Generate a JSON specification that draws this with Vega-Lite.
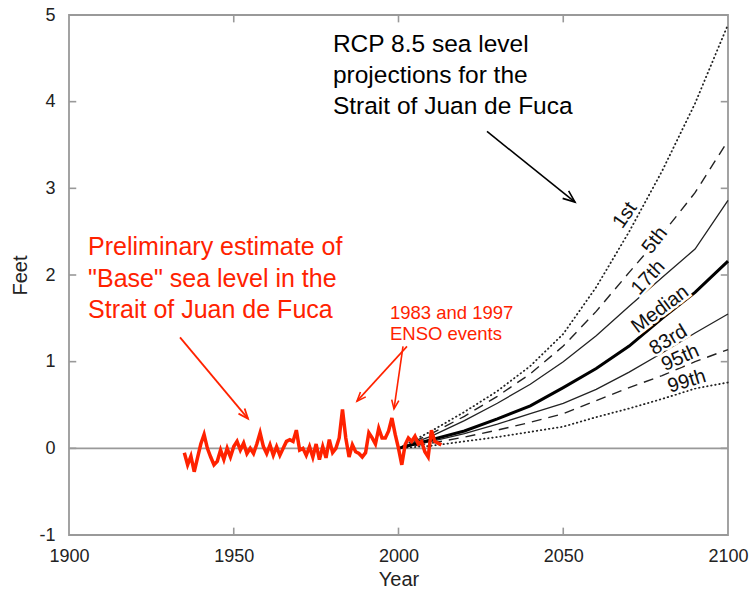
{
  "$schema": "https://vega.github.io/schema/vega-lite/v6.json",
  "width": 659,
  "height": 520,
  "autosize": {"type": "none"},
  "padding": {"left": 69, "top": 15, "right": 21, "bottom": 60},
  "background": "white",
  "config": {
    "view": {"stroke": "#999999", "strokeWidth": 1.8},
    "font": "Liberation Sans",
    "axis": {
      "domain": false, "ticks": false,
      "grid": false, "labelFont": "Liberation Sans", "labelFontSize": 18,
      "labelColor": "#222222", "labelFlush": false,
      "titleFont": "Liberation Sans", "titleFontSize": 20,
      "titleFontWeight": "normal", "titleColor": "#222222"
    }
  },
  "datasets": {
    "obs": [
      {"year": 1935, "ft": -0.05}, {"year": 1936, "ft": -0.19}, {"year": 1937, "ft": -0.09}, {"year": 1938, "ft": -0.27},
      {"year": 1939, "ft": -0.11}, {"year": 1940, "ft": 0.05}, {"year": 1941, "ft": 0.16}, {"year": 1942, "ft": 0.0},
      {"year": 1943, "ft": -0.1}, {"year": 1944, "ft": -0.19}, {"year": 1945, "ft": -0.15}, {"year": 1946, "ft": -0.02},
      {"year": 1947, "ft": -0.13}, {"year": 1948, "ft": 0.0}, {"year": 1949, "ft": -0.1}, {"year": 1950, "ft": 0.02},
      {"year": 1951, "ft": 0.08}, {"year": 1952, "ft": -0.02}, {"year": 1953, "ft": 0.06}, {"year": 1954, "ft": -0.06},
      {"year": 1955, "ft": 0.0}, {"year": 1956, "ft": -0.06}, {"year": 1957, "ft": 0.05}, {"year": 1958, "ft": 0.18},
      {"year": 1959, "ft": 0.02}, {"year": 1960, "ft": -0.06}, {"year": 1961, "ft": 0.04}, {"year": 1962, "ft": -0.08},
      {"year": 1963, "ft": 0.02}, {"year": 1964, "ft": -0.08}, {"year": 1965, "ft": 0.0}, {"year": 1966, "ft": 0.08},
      {"year": 1967, "ft": 0.1}, {"year": 1968, "ft": 0.08}, {"year": 1969, "ft": 0.21}, {"year": 1970, "ft": -0.02},
      {"year": 1971, "ft": 0.0}, {"year": 1972, "ft": -0.08}, {"year": 1973, "ft": 0.02}, {"year": 1974, "ft": -0.1},
      {"year": 1975, "ft": 0.05}, {"year": 1976, "ft": -0.13}, {"year": 1977, "ft": 0.02}, {"year": 1978, "ft": -0.11},
      {"year": 1979, "ft": 0.1}, {"year": 1980, "ft": -0.05}, {"year": 1981, "ft": 0.0}, {"year": 1982, "ft": 0.12},
      {"year": 1983, "ft": 0.45}, {"year": 1984, "ft": 0.12}, {"year": 1985, "ft": -0.1}, {"year": 1986, "ft": 0.04},
      {"year": 1987, "ft": -0.04}, {"year": 1988, "ft": -0.06}, {"year": 1989, "ft": -0.1}, {"year": 1990, "ft": -0.05},
      {"year": 1991, "ft": 0.18}, {"year": 1992, "ft": 0.12}, {"year": 1993, "ft": 0.05}, {"year": 1994, "ft": 0.23},
      {"year": 1995, "ft": 0.12}, {"year": 1996, "ft": 0.12}, {"year": 1997, "ft": 0.2}, {"year": 1998, "ft": 0.35},
      {"year": 1999, "ft": 0.16}, {"year": 2000, "ft": 0.0}, {"year": 2001, "ft": -0.19}, {"year": 2002, "ft": 0.04},
      {"year": 2003, "ft": 0.12}, {"year": 2004, "ft": 0.08}, {"year": 2005, "ft": 0.14}, {"year": 2006, "ft": 0.05},
      {"year": 2007, "ft": 0.08}, {"year": 2008, "ft": -0.04}, {"year": 2009, "ft": -0.1}, {"year": 2010, "ft": 0.21},
      {"year": 2011, "ft": 0.08}, {"year": 2012, "ft": 0.06}, {"year": 2013, "ft": 0.04}
    ],
    "proj": [
      {"year": 2000, "p": "1st", "ft": 0}, {"year": 2010, "p": "1st", "ft": 0.2}, {"year": 2020, "p": "1st", "ft": 0.42}, {"year": 2030, "p": "1st", "ft": 0.66}, {"year": 2040, "p": "1st", "ft": 0.95}, {"year": 2050, "p": "1st", "ft": 1.32}, {"year": 2060, "p": "1st", "ft": 1.86}, {"year": 2070, "p": "1st", "ft": 2.5}, {"year": 2080, "p": "1st", "ft": 3.2}, {"year": 2090, "p": "1st", "ft": 3.98}, {"year": 2100, "p": "1st", "ft": 4.89},
      {"year": 2000, "p": "5th", "ft": 0}, {"year": 2010, "p": "5th", "ft": 0.17}, {"year": 2020, "p": "5th", "ft": 0.37}, {"year": 2030, "p": "5th", "ft": 0.6}, {"year": 2040, "p": "5th", "ft": 0.86}, {"year": 2050, "p": "5th", "ft": 1.18}, {"year": 2060, "p": "5th", "ft": 1.58}, {"year": 2070, "p": "5th", "ft": 2.03}, {"year": 2080, "p": "5th", "ft": 2.47}, {"year": 2090, "p": "5th", "ft": 2.95}, {"year": 2100, "p": "5th", "ft": 3.55},
      {"year": 2000, "p": "17th", "ft": 0}, {"year": 2010, "p": "17th", "ft": 0.14}, {"year": 2020, "p": "17th", "ft": 0.32}, {"year": 2030, "p": "17th", "ft": 0.52}, {"year": 2040, "p": "17th", "ft": 0.74}, {"year": 2050, "p": "17th", "ft": 1.0}, {"year": 2060, "p": "17th", "ft": 1.3}, {"year": 2070, "p": "17th", "ft": 1.64}, {"year": 2080, "p": "17th", "ft": 1.97}, {"year": 2090, "p": "17th", "ft": 2.3}, {"year": 2100, "p": "17th", "ft": 2.86},
      {"year": 2000, "p": "Median", "ft": 0}, {"year": 2010, "p": "Median", "ft": 0.1}, {"year": 2020, "p": "Median", "ft": 0.2}, {"year": 2030, "p": "Median", "ft": 0.34}, {"year": 2040, "p": "Median", "ft": 0.49}, {"year": 2050, "p": "Median", "ft": 0.7}, {"year": 2060, "p": "Median", "ft": 0.92}, {"year": 2070, "p": "Median", "ft": 1.18}, {"year": 2080, "p": "Median", "ft": 1.5}, {"year": 2090, "p": "Median", "ft": 1.8}, {"year": 2100, "p": "Median", "ft": 2.16},
      {"year": 2000, "p": "83rd", "ft": 0}, {"year": 2010, "p": "83rd", "ft": 0.08}, {"year": 2020, "p": "83rd", "ft": 0.17}, {"year": 2030, "p": "83rd", "ft": 0.28}, {"year": 2040, "p": "83rd", "ft": 0.4}, {"year": 2050, "p": "83rd", "ft": 0.52}, {"year": 2060, "p": "83rd", "ft": 0.68}, {"year": 2070, "p": "83rd", "ft": 0.88}, {"year": 2080, "p": "83rd", "ft": 1.1}, {"year": 2090, "p": "83rd", "ft": 1.33}, {"year": 2100, "p": "83rd", "ft": 1.55},
      {"year": 2000, "p": "95th", "ft": 0}, {"year": 2010, "p": "95th", "ft": 0.06}, {"year": 2020, "p": "95th", "ft": 0.13}, {"year": 2030, "p": "95th", "ft": 0.21}, {"year": 2040, "p": "95th", "ft": 0.3}, {"year": 2050, "p": "95th", "ft": 0.4}, {"year": 2060, "p": "95th", "ft": 0.55}, {"year": 2070, "p": "95th", "ft": 0.7}, {"year": 2080, "p": "95th", "ft": 0.84}, {"year": 2090, "p": "95th", "ft": 1.0}, {"year": 2100, "p": "95th", "ft": 1.14},
      {"year": 2000, "p": "99th", "ft": 0}, {"year": 2010, "p": "99th", "ft": 0.03}, {"year": 2020, "p": "99th", "ft": 0.08}, {"year": 2030, "p": "99th", "ft": 0.13}, {"year": 2040, "p": "99th", "ft": 0.19}, {"year": 2050, "p": "99th", "ft": 0.25}, {"year": 2060, "p": "99th", "ft": 0.36}, {"year": 2070, "p": "99th", "ft": 0.46}, {"year": 2080, "p": "99th", "ft": 0.57}, {"year": 2090, "p": "99th", "ft": 0.69}, {"year": 2100, "p": "99th", "ft": 0.76}
    ],
    "xticks": [{"year": 1950}, {"year": 2000}, {"year": 2050}],
    "yticks": [{"ft": 0}, {"ft": 1}, {"ft": 2}, {"ft": 3}, {"ft": 4}]
  },
  "layer": [
    {
      "data": {"values": [{}]},
      "mark": {"type": "rule", "color": "#999999", "strokeWidth": 1.8},
      "encoding": {
        "y": {"datum": 0, "type": "quantitative", "scale": {"domain": [-1, 5], "nice": false, "zero": false},
          "axis": {"orient": "left", "values": [-1, 0, 1, 2, 3, 4, 5], "labelExpr": "'' + datum.value", "title": "Feet",
            "labelPadding": 14, "titlePadding": 8}}
      }
    },
    {
      "data": {"name": "xticks"},
      "mark": {"type": "rule", "color": "#999999", "strokeWidth": 1.6},
      "encoding": {"x": {"field": "year", "type": "quantitative"}, "y": {"datum": -1, "type": "quantitative"}, "y2": {"datum": -0.915}}
    },
    {
      "data": {"name": "xticks"},
      "mark": {"type": "rule", "color": "#999999", "strokeWidth": 1.6},
      "encoding": {"x": {"field": "year", "type": "quantitative"}, "y": {"datum": 5, "type": "quantitative"}, "y2": {"datum": 4.915}}
    },
    {
      "data": {"name": "yticks"},
      "mark": {"type": "rule", "color": "#999999", "strokeWidth": 1.6},
      "encoding": {"y": {"field": "ft", "type": "quantitative"}, "x": {"datum": 1900, "type": "quantitative"}, "x2": {"datum": 1902.2}}
    },
    {
      "data": {"name": "yticks"},
      "mark": {"type": "rule", "color": "#999999", "strokeWidth": 1.6},
      "encoding": {"y": {"field": "ft", "type": "quantitative"}, "x": {"datum": 2100, "type": "quantitative"}, "x2": {"datum": 2097.8}}
    },
    {
      "data": {"name": "proj"},
      "transform": [{"filter": {"field": "p", "oneOf": ["1st", "99th"]}}],
      "mark": {"type": "line", "color": "#222222", "strokeWidth": 1.8, "strokeDash": [0.5, 3.6], "strokeCap": "round"},
      "encoding": {
        "x": {"field": "year", "type": "quantitative", "scale": {"domain": [1900, 2100], "nice": false, "zero": false}},
        "y": {"field": "ft", "type": "quantitative"},
        "detail": {"field": "p"}
      }
    },
    {
      "data": {"name": "proj"},
      "transform": [{"filter": {"field": "p", "oneOf": ["5th", "95th"]}}],
      "mark": {"type": "line", "color": "#222222", "strokeWidth": 1.4, "strokeDash": [10, 7]},
      "encoding": {
        "x": {"field": "year", "type": "quantitative"},
        "y": {"field": "ft", "type": "quantitative"},
        "detail": {"field": "p"}
      }
    },
    {
      "data": {"name": "proj"},
      "transform": [{"filter": {"field": "p", "oneOf": ["17th", "83rd"]}}],
      "mark": {"type": "line", "color": "#222222", "strokeWidth": 1.3},
      "encoding": {
        "x": {"field": "year", "type": "quantitative"},
        "y": {"field": "ft", "type": "quantitative"},
        "detail": {"field": "p"}
      }
    },
    {
      "data": {"name": "proj"},
      "transform": [{"filter": {"field": "p", "equal": "Median"}}],
      "mark": {"type": "line", "color": "#000000", "strokeWidth": 3},
      "encoding": {
        "x": {"field": "year", "type": "quantitative"},
        "y": {"field": "ft", "type": "quantitative"}
      }
    },
    {
      "data": {"name": "obs"},
      "mark": {"type": "line", "color": "#ff2200", "strokeWidth": 3.5, "strokeJoin": "miter"},
      "encoding": {
        "x": {"field": "year", "type": "quantitative",
          "axis": {"orient": "bottom", "values": [1900, 1950, 2000, 2050, 2100], "format": "d", "title": "Year",
            "labelPadding": 12, "titlePadding": 4}},
        "y": {"field": "ft", "type": "quantitative"}
      }
    },
    {"data": {"values": [{}]}, "mark": {"type": "text", "text": "1st", "angle": -55, "fontSize": 20, "stroke": "white", "strokeWidth": 5, "align": "center", "baseline": "middle"},
     "encoding": {"x": {"datum": 2068.7, "type": "quantitative"}, "y": {"datum": 2.69, "type": "quantitative"}}},
    {"data": {"values": [{}]}, "mark": {"type": "text", "text": "1st", "angle": -55, "fontSize": 20, "color": "#111111", "align": "center", "baseline": "middle"},
     "encoding": {"x": {"datum": 2068.7, "type": "quantitative"}, "y": {"datum": 2.69, "type": "quantitative"}}},
    {"data": {"values": [{}]}, "mark": {"type": "text", "text": "5th", "angle": -52, "fontSize": 20, "stroke": "white", "strokeWidth": 5, "align": "center", "baseline": "middle"},
     "encoding": {"x": {"datum": 2077.8, "type": "quantitative"}, "y": {"datum": 2.4, "type": "quantitative"}}},
    {"data": {"values": [{}]}, "mark": {"type": "text", "text": "5th", "angle": -52, "fontSize": 20, "color": "#111111", "align": "center", "baseline": "middle"},
     "encoding": {"x": {"datum": 2077.8, "type": "quantitative"}, "y": {"datum": 2.4, "type": "quantitative"}}},
    {"data": {"values": [{}]}, "mark": {"type": "text", "text": "17th", "angle": -47, "fontSize": 20, "stroke": "white", "strokeWidth": 5, "align": "center", "baseline": "middle"},
     "encoding": {"x": {"datum": 2075.8, "type": "quantitative"}, "y": {"datum": 1.97, "type": "quantitative"}}},
    {"data": {"values": [{}]}, "mark": {"type": "text", "text": "17th", "angle": -47, "fontSize": 20, "color": "#111111", "align": "center", "baseline": "middle"},
     "encoding": {"x": {"datum": 2075.8, "type": "quantitative"}, "y": {"datum": 1.97, "type": "quantitative"}}},
    {"data": {"values": [{}]}, "mark": {"type": "text", "text": "Median", "angle": -37, "fontSize": 20, "stroke": "white", "strokeWidth": 5, "align": "center", "baseline": "middle"},
     "encoding": {"x": {"datum": 2079.4, "type": "quantitative"}, "y": {"datum": 1.605, "type": "quantitative"}}},
    {"data": {"values": [{}]}, "mark": {"type": "text", "text": "Median", "angle": -37, "fontSize": 20, "color": "#111111", "align": "center", "baseline": "middle"},
     "encoding": {"x": {"datum": 2079.4, "type": "quantitative"}, "y": {"datum": 1.605, "type": "quantitative"}}},
    {"data": {"values": [{}]}, "mark": {"type": "text", "text": "83rd", "angle": -31, "fontSize": 20, "stroke": "white", "strokeWidth": 5, "align": "center", "baseline": "middle"},
     "encoding": {"x": {"datum": 2081.9, "type": "quantitative"}, "y": {"datum": 1.25, "type": "quantitative"}}},
    {"data": {"values": [{}]}, "mark": {"type": "text", "text": "83rd", "angle": -31, "fontSize": 20, "color": "#111111", "align": "center", "baseline": "middle"},
     "encoding": {"x": {"datum": 2081.9, "type": "quantitative"}, "y": {"datum": 1.25, "type": "quantitative"}}},
    {"data": {"values": [{}]}, "mark": {"type": "text", "text": "95th", "angle": -24, "fontSize": 20, "stroke": "white", "strokeWidth": 5, "align": "center", "baseline": "middle"},
     "encoding": {"x": {"datum": 2085.5, "type": "quantitative"}, "y": {"datum": 1.045, "type": "quantitative"}}},
    {"data": {"values": [{}]}, "mark": {"type": "text", "text": "95th", "angle": -24, "fontSize": 20, "color": "#111111", "align": "center", "baseline": "middle"},
     "encoding": {"x": {"datum": 2085.5, "type": "quantitative"}, "y": {"datum": 1.045, "type": "quantitative"}}},
    {"data": {"values": [{}]}, "mark": {"type": "text", "text": "99th", "angle": -17, "fontSize": 20, "stroke": "white", "strokeWidth": 5, "align": "center", "baseline": "middle"},
     "encoding": {"x": {"datum": 2087.5, "type": "quantitative"}, "y": {"datum": 0.774, "type": "quantitative"}}},
    {"data": {"values": [{}]}, "mark": {"type": "text", "text": "99th", "angle": -17, "fontSize": 20, "color": "#111111", "align": "center", "baseline": "middle"},
     "encoding": {"x": {"datum": 2087.5, "type": "quantitative"}, "y": {"datum": 0.774, "type": "quantitative"}}},
    {"data": {"values": [{}]}, "mark": {"type": "text", "text": ["RCP 8.5 sea level", "projections for the", "Strait of Juan de Fuca"], "align": "left", "baseline": "top", "fontSize": 24.5, "lineHeight": 31, "color": "#000000"},
     "encoding": {"x": {"datum": 1980.1, "type": "quantitative"}, "y": {"datum": 4.79, "type": "quantitative"}}},
    {"data": {"values": [{}]}, "mark": {"type": "text", "text": ["Preliminary estimate of", "\"Base\" sea level in the", "Strait of Juan de Fuca"], "align": "left", "baseline": "top", "fontSize": 25, "lineHeight": 31.5, "color": "#ff2200"},
     "encoding": {"x": {"datum": 1905.8, "type": "quantitative"}, "y": {"datum": 2.46, "type": "quantitative"}}},
    {"data": {"values": [{}]}, "mark": {"type": "text", "text": ["1983 and 1997", "ENSO events"], "align": "left", "baseline": "top", "fontSize": 18.5, "lineHeight": 21.5, "color": "#ff2200"},
     "encoding": {"x": {"datum": 1997.4, "type": "quantitative"}, "y": {"datum": 1.671, "type": "quantitative"}}},
    {"data": {"values": [{}]}, "mark": {"type": "rule", "color": "#000000", "strokeWidth": 1.6},
     "encoding": {"x": {"datum": 2026.86, "type": "quantitative"}, "y": {"datum": 3.656, "type": "quantitative"},
       "x2": {"datum": 2053.57}, "y2": {"datum": 2.841}}},
    {"data": {"values": [{}]}, "mark": {"type": "point", "shape": "M-0.4,1L0,0L0.4,1", "filled": false, "stroke": "#000000", "strokeWidth": 1.6, "size": 576, "angle": 128.6, "opacity": 1},
     "encoding": {"x": {"datum": 2053.57, "type": "quantitative"}, "y": {"datum": 2.841, "type": "quantitative"}}},
    {"data": {"values": [{}]}, "mark": {"type": "rule", "color": "#ff2200", "strokeWidth": 1.8},
     "encoding": {"x": {"datum": 1933.69, "type": "quantitative"}, "y": {"datum": 1.28, "type": "quantitative"},
       "x2": {"datum": 1954.32}, "y2": {"datum": 0.342}}},
    {"data": {"values": [{}]}, "mark": {"type": "point", "shape": "M-0.4,1L0,0L0.4,1", "filled": false, "stroke": "#ff2200", "strokeWidth": 1.8, "size": 400, "angle": 140, "opacity": 1},
     "encoding": {"x": {"datum": 1954.32, "type": "quantitative"}, "y": {"datum": 0.342, "type": "quantitative"}}},
    {"data": {"values": [{}]}, "mark": {"type": "rule", "color": "#ff2200", "strokeWidth": 1.6},
     "encoding": {"x": {"datum": 2002.58, "type": "quantitative"}, "y": {"datum": 1.176, "type": "quantitative"},
       "x2": {"datum": 1987.41}, "y2": {"datum": 0.545}}},
    {"data": {"values": [{}]}, "mark": {"type": "point", "shape": "M-0.4,1L0,0L0.4,1", "filled": false, "stroke": "#ff2200", "strokeWidth": 1.6, "size": 324, "angle": 222.5, "opacity": 1},
     "encoding": {"x": {"datum": 1987.41, "type": "quantitative"}, "y": {"datum": 0.545, "type": "quantitative"}}},
    {"data": {"values": [{}]}, "mark": {"type": "rule", "color": "#ff2200", "strokeWidth": 1.6},
     "encoding": {"x": {"datum": 2001.37, "type": "quantitative"}, "y": {"datum": 1.176, "type": "quantitative"},
       "x2": {"datum": 1998.63}, "y2": {"datum": 0.454}}},
    {"data": {"values": [{}]}, "mark": {"type": "point", "shape": "M-0.4,1L0,0L0.4,1", "filled": false, "stroke": "#ff2200", "strokeWidth": 1.6, "size": 324, "angle": 188.2, "opacity": 1},
     "encoding": {"x": {"datum": 1998.63, "type": "quantitative"}, "y": {"datum": 0.454, "type": "quantitative"}}}
  ]
}
